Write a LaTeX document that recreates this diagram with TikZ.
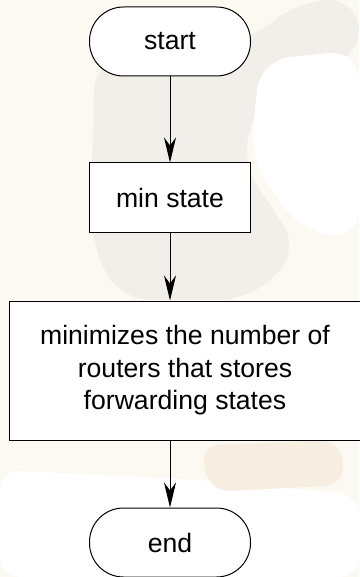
\documentclass[tikz,border=0pt]{standalone}
\usepackage{fontspec}
\setmainfont{Liberation Sans}
\usetikzlibrary{arrows.meta, positioning}
\definecolor{fcline}{HTML}{000000}
\definecolor{fcshade}{HTML}{F2EEEA}
\definecolor{fccream}{HTML}{FCF9F2}
\definecolor{fcbeige}{HTML}{F7EEE2}

\tikzset{
  terminal/.style={draw=fcline, fill=white, line width=1pt, rounded corners=34pt,
    minimum width=161pt, minimum height=69pt, inner sep=0pt},
  process/.style={draw=fcline, fill=white, line width=1pt,
    minimum width=161pt, minimum height=69pt, inner sep=0pt, align=center},
  flow/.style={draw=fcline, line width=1pt,
    -{Stealth[length=25pt, width=12pt, inset=8pt]}},
}

\begin{document}
\begin{tikzpicture}[x=1pt, y=-1pt, font=\fontsize{26.6}{32.5}\selectfont]
\useasboundingbox (0,0) rectangle (359,577);
% Faint background
\fill[fccream] (0,0) rectangle (359,577);
\fill[fcshade, rounded corners=30pt] (95,60) -- (250,40) -- (300,0) -- (359,0) -- (359,60)
    -- (270,70) -- (240,160) -- (300,250) -- (250,300) -- (120,300) -- (90,240) -- cycle;
\fill[white, rounded corners=30pt] (260,60) -- (359,50) -- (359,240) -- (300,230) -- (250,160) -- cycle;
\fill[white, rounded corners=20pt] (0,470) -- (200,480) -- (359,495) -- (359,577) -- (0,577) -- cycle;
\fill[fcbeige, rounded corners=20pt] (200,445) -- (340,440) -- (345,485) -- (210,492) -- cycle;
% Nodes
\node[terminal] (start) at (170,41.5) {start};
\node[process] (minst) at (170,197.5) {min state};
\node[process, minimum width=352pt, minimum height=139pt] (minrt) at (185,370.5)
    {minimizes the number of\\routers that stores\\forwarding states};
\node[terminal] (end) at (170,542.5) {end};
% Connectors
\draw[flow] (start) -- (minst);
\draw[flow] (minst) -- (minst |- minrt.north);
\draw[flow] (minrt.south -| end) -- (end);
\end{tikzpicture}
\end{document}
